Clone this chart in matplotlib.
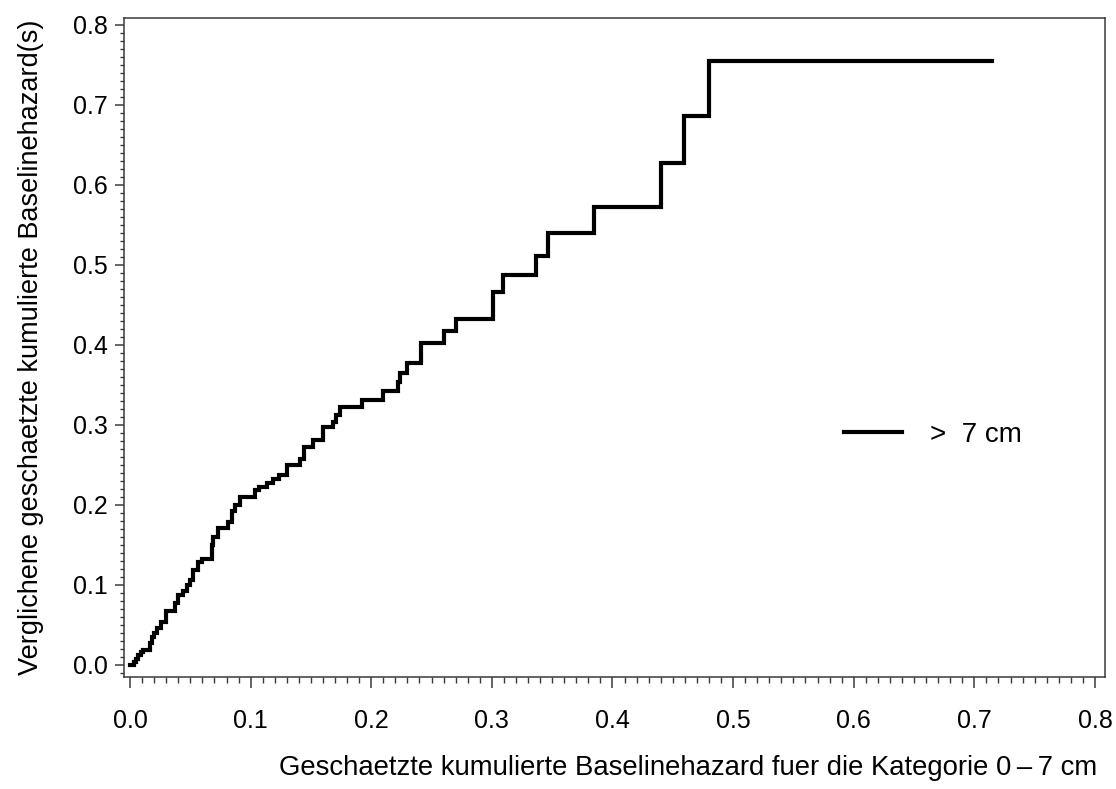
"""
Cumulative baseline hazard comparison (> 7 cm vs 0-7 cm), step plot.
"""
import matplotlib
matplotlib.use("Agg")
import matplotlib.pyplot as plt
from matplotlib.ticker import MultipleLocator, FormatStrFormatter

plt.rcParams["font.family"] = ["Liberation Sans", "DejaVu Sans"]

# estimated cumulative baseline hazard, category 0-7 cm (x) vs > 7 cm (y)
hazard_ref = [
    0.000, 0.003, 0.005, 0.007, 0.009, 0.011, 0.0166, 0.018, 0.020, 0.022,
    0.026, 0.0296, 0.0373, 0.040, 0.044, 0.047, 0.050, 0.0525, 0.0566, 0.060,
    0.0677, 0.069, 0.0732, 0.0815, 0.0843, 0.087, 0.0912, 0.1036, 0.107, 0.1133,
    0.1188, 0.1238, 0.1304, 0.141, 0.144, 0.152, 0.160, 0.1686, 0.1708, 0.174,
    0.192, 0.2095, 0.2225, 0.2238, 0.2294, 0.241, 0.260, 0.270, 0.3007, 0.309,
    0.3366, 0.3468, 0.385, 0.4405, 0.459, 0.480, 0.7143,
]
hazard_cmp = [
    0.000, 0.004, 0.008, 0.012, 0.016, 0.019, 0.027, 0.035, 0.040, 0.046,
    0.054, 0.067, 0.077, 0.0875, 0.092, 0.100, 0.106, 0.119, 0.129, 0.133,
    0.150, 0.160, 0.171, 0.179, 0.192, 0.200, 0.2104, 0.219, 0.223, 0.227,
    0.232, 0.2375, 0.250, 0.258, 0.2725, 0.281, 0.297, 0.304, 0.312, 0.323,
    0.331, 0.3425, 0.354, 0.3646, 0.378, 0.4025, 0.418, 0.433, 0.466, 0.488,
    0.511, 0.540, 0.573, 0.627, 0.6867, 0.7554, 0.7554,
]
series_label = ">  7 cm"
x_label = "Geschaetzte kumulierte Baselinehazard fuer die Kategorie 0\u2009\u2013\u20097 cm"
y_label = "Verglichene geschaetzte kumulierte Baselinehazard(s)"

fig = plt.figure(figsize=(11.16, 7.89), dpi=100)
ax = fig.add_axes([0.1111, 0.142, 0.879, 0.8352])

ax.plot(hazard_ref, hazard_cmp, drawstyle="steps-post", color="black",
        linewidth=3, solid_joinstyle="miter", label=series_label)

ax.set_xlim(-0.005, 0.8083)
ax.set_ylim(-0.015, 0.80875)

ax.xaxis.set_major_locator(MultipleLocator(0.1))
ax.xaxis.set_minor_locator(MultipleLocator(0.01))
ax.yaxis.set_major_locator(MultipleLocator(0.1))
ax.yaxis.set_minor_locator(MultipleLocator(0.01))
ax.xaxis.set_major_formatter(FormatStrFormatter("%.1f"))
ax.yaxis.set_major_formatter(FormatStrFormatter("%.1f"))

spine_color = "#3a3a3a"
for spine in ax.spines.values():
    spine.set_color(spine_color)
    spine.set_linewidth(1.1)

ax.tick_params(axis="x", which="major", length=8, width=1.1, pad=15,
               labelsize=18, color=spine_color)
ax.tick_params(axis="x", which="minor", length=4.3, width=1.0, color=spine_color)
ax.tick_params(axis="y", which="major", length=6.5, width=1.1, pad=5,
               labelsize=18, color=spine_color)
ax.tick_params(axis="y", which="minor", length=3, width=1.0, color=spine_color)

ax.set_ylabel(y_label, fontsize=19.5, labelpad=21)
ax.set_xlabel(x_label, fontsize=19.8, loc="right")
ax.xaxis.set_label_coords(0.992, -0.118)

ax.legend(loc="center left", bbox_to_anchor=(0.734, 0.367), frameon=False,
          fontsize=20, handlelength=2.1, handletextpad=1.0,
          borderpad=0, borderaxespad=0)

fig.savefig("out.png", dpi=100)
